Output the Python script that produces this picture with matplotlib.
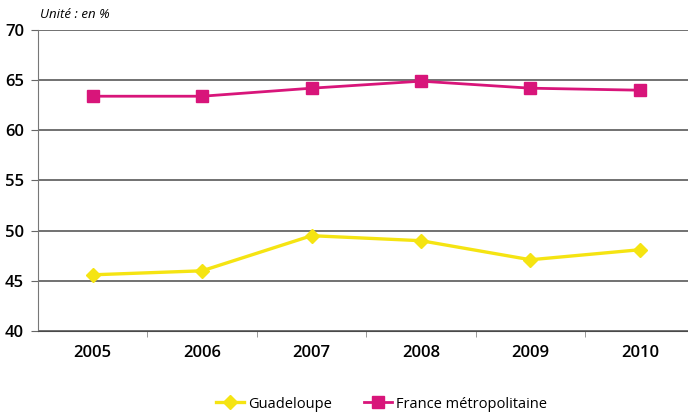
import matplotlib
matplotlib.use("Agg")
import matplotlib.pyplot as plt
import numpy as np

years = ["2005", "2006", "2007", "2008", "2009", "2010"]
guadeloupe = [45.6, 46.0, 49.5, 49.0, 47.1, 48.1]
france = [63.4, 63.4, 64.2, 64.9, 64.2, 64.0]

plt.rcParams["font.family"] = ["Open Sans", "DejaVu Sans"]

fig = plt.figure(figsize=(6.88, 4.15), dpi=100)
ax = fig.add_axes([38 / 688, 1 - 331 / 415, 1 - 38 / 688, (331 - 30) / 415])

x = np.arange(len(years))
ax.plot(x, guadeloupe, color="#f5e412", lw=2.4, marker="D", ms=7.5,
        label="Guadeloupe", zorder=3)
ax.plot(x, france, color="#d8157a", lw=2.0, marker="s", ms=9,
        label="France métropolitaine", zorder=3)

ax.set_ylim(40, 70)
ax.set_xlim(-0.5, 5.44)
ax.set_yticks(range(40, 71, 5))
ax.yaxis.grid(True, color="#4a4a4a", lw=1.1)
ax.set_axisbelow(True)

ax.set_xticks(x)
ax.set_xticklabels(years)
ax.set_xticks(np.arange(0.5, 5.5, 1), minor=True)
ax.tick_params(axis="x", which="major", length=0, pad=10, labelsize=12)
ax.tick_params(axis="x", which="minor", length=4, color="#888888")
ax.tick_params(axis="y", length=5, color="#666666", labelsize=12, pad=5)
for lbl in ax.get_xticklabels() + ax.get_yticklabels():
    lbl.set_fontweight("semibold")

for side in ("top", "right"):
    ax.spines[side].set_visible(False)
ax.spines["left"].set_color("#777777")
ax.spines["bottom"].set_color("#4a4a4a")

fig.text(40 / 688, 1 - 15 / 415, "Unité : en %", style="italic",
         fontsize=9.5, va="center", ha="left")

leg = fig.legend(loc="center", bbox_to_anchor=(0.555, 1 - 404 / 415), ncol=2,
                 frameon=False, fontsize=10.5, handlelength=1.9,
                 columnspacing=2.2, handletextpad=0.3)
for t in leg.get_texts():
    t.set_fontweight("medium")

fig.savefig("out.png", dpi=100)
